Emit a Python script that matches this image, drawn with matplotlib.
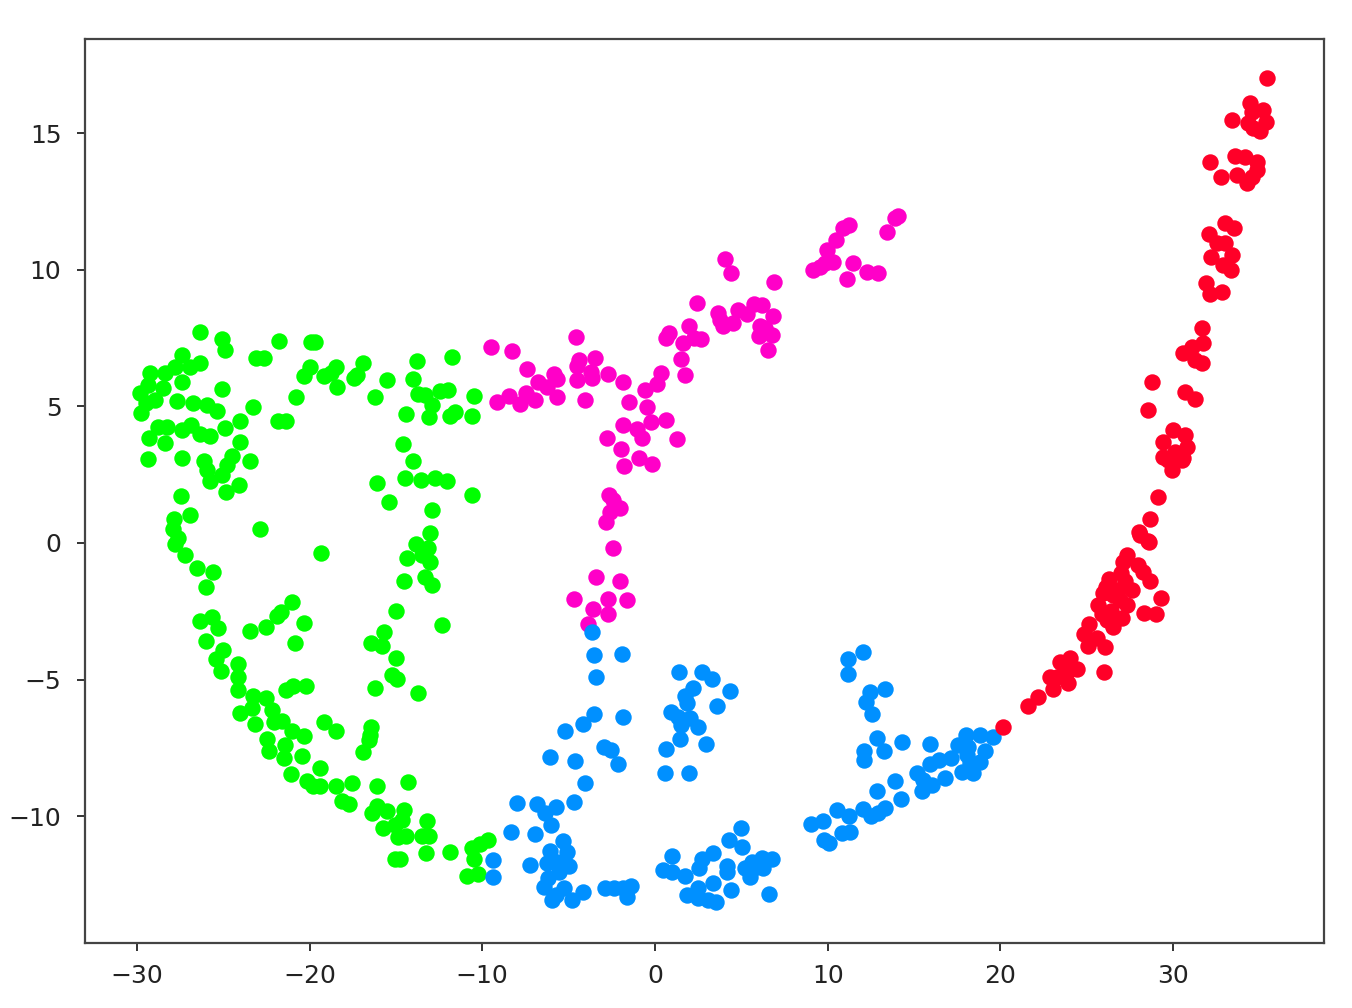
import numpy as np
import matplotlib
matplotlib.use('Agg')
import matplotlib.pyplot as plt

green = [(-26.35,7.70),(-25.09,7.45),(-24.9,7.06),(-27.41,6.88),(-26.35,6.6),(-26.93,6.45),(-27.8,6.45),
    (-28.37,6.2),(-29.24,6.23),(-27.41,5.9),(-28.47,5.66),(-29.34,5.78),(-29.82,5.48),(-28.95,5.23),
    (-29.73,4.77),(-29.44,5.11),(-25.09,5.64),(-27.7,5.21),(-26.77,5.13),(-25.92,5.05),(-25.38,4.84),
    (-23.26,4.99),(-24.03,4.46),(-24.9,4.21),(-25.77,3.92),(-26.35,3.99),(-26.87,4.32),(-27.37,4.13),
    (-28.28,4.23),(-28.76,4.23),(-29.3,3.83),(-28.37,3.65),(-24.03,3.71),(-29.34,3.07),(-27.37,3.1),
    (-26.1,3.01),(-25.92,2.67),(-25.77,2.28),(-25.09,2.49),(-24.8,2.85),(-24.47,3.18),(-23.45,3.01),
    (-24.09,2.12),(-24.86,1.88),(-27.45,1.7),(-26.93,1.01),(-27.83,0.87),(-27.93,0.5),(-27.6,0.17),
    (-27.8,-0.05),(-27.22,-0.46),(-26.54,-0.93),(-25.61,-1.07),(-26.02,-1.63),(-22.87,0.51),(-19.34,-0.37),
    (-23.07,6.76),(-22.64,6.78),(-21.79,7.39),(-19.94,7.34),(-19.69,7.34),(-19.98,6.45),(-20.32,6.09),
    (-20.79,5.35),(-21.81,4.46),(-21.39,4.46),(-19.17,6.11),(-18.47,6.45),(-18.78,6.21),(-18.39,5.72),
    (-17.41,6.02),(-17.23,6.15),(-16.93,6.57),(-15.5,5.96),(-16.21,5.35),(-13.8,6.66),(-11.77,6.81),
    (-13.99,5.99),(-13.7,5.45),(-13.32,5.42),(-12.93,5.05),(-13.06,4.62),(-14.42,4.72),(-12.45,5.56),
    (-11.96,5.59),(-10.48,5.39),(-11.58,4.8),(-11.87,4.65),(-10.59,4.65),(-14.61,3.61),(-14.03,2.98),
    (-14.47,2.39),(-13.57,2.3),(-12.74,2.37),(-12.02,2.28),(-16.08,2.21),(-15.4,1.5),(-10.57,1.74),
    (-12.93,1.19),(-13.03,0.35),(-13.84,-0.05),(-13.12,-0.2),(-14.34,-0.54),(-13.51,-0.44),(-13.03,-0.68),
    (-14.53,-1.41),(-13.32,-1.23),(-12.89,-1.55),
    (-26.34,-2.85),(-25.67,-2.7),(-25.28,-3.12),(-26.0,-3.59),(-25.03,-3.92),(-25.42,-4.26),(-25.15,-4.68),
    (-24.16,-4.43),(-24.12,-4.92),(-24.16,-5.38),(-23.45,-3.22),(-22.54,-3.06),(-21.9,-2.67),(-21.67,-2.51),
    (-21,-2.16),(-20.3,-2.94),(-20.86,-3.65),(-14.99,-2.49),(-12.33,-2.99),(-15.67,-3.27),(-16.46,-3.67),
    (-15.82,-3.79),(-15.01,-4.2),(-15.24,-4.83),(-14.95,-4.99),(-16.21,-5.32),(-13.7,-5.49),(-21.36,-5.38),
    (-20.98,-5.22),(-20.22,-5.22),(-23.3,-5.6),(-22.52,-5.68),(-24.03,-6.21),(-23.35,-6.05),(-22.19,-6.11),
    (-23.16,-6.63),(-22.06,-6.54),(-21.61,-6.51),(-21.04,-6.9),(-20.32,-7.05),(-22.48,-7.17),(-22.35,-7.61),
    (-21.42,-7.41),(-21.46,-7.88),(-20.42,-7.78),(-21.09,-8.45),(-19.4,-8.24),(-19.16,-6.55),(-18.47,-6.87),
    (-16.42,-6.72),(-16.5,-7.03),(-16.54,-7.21),(-16.88,-7.65),(-20.17,-8.71),(-19.78,-8.88),(-19.4,-8.88),
    (-18.47,-8.89),(-17.54,-8.77),(-18.14,-9.46),(-17.72,-9.56),(-16.09,-8.89),(-14.32,-8.76),(-16.11,-9.62),
    (-15.53,-9.81),(-16.4,-9.87),(-14.51,-9.77),(-14.66,-10.13),(-13.2,-10.17),(-15.73,-10.42),(-15.05,-10.32),
    (-14.86,-10.77),(-14.41,-10.72),(-13.51,-10.74),(-13.06,-10.74),(-13.28,-11.33),(-15.05,-11.56),(-14.75,-11.56),
    (-11.87,-11.31),(-10.61,-11.17),(-10.13,-11),(-9.68,-10.87),(-10.48,-11.57),(-10.9,-12.17),(-10.22,-12.11)]

magenta = [(-9.47,7.18),(-8.26,7.04),(-7.43,6.35),(-4.59,7.54),(-4.4,6.7),(-4.49,6.49),(-3.47,6.75),(-3.72,6.27),
    (-3.62,6.03),(-4.53,5.96),(-2.7,6.18),(-1.83,5.89),(-5.84,6.18),(-5.69,6),(-6.75,5.9),(-6.27,5.7),
    (-5.69,5.35),(-4.05,5.23),(-6.95,5.23),(-7.47,5.5),(-7.81,5.09),(-8.45,5.39),(-9.17,5.15),(0.35,6.23),
    (0.1,5.82),(-0.57,5.6),(-1.48,5.17),(-0.44,4.99),(0.62,4.5),(-0.25,4.44),(-1.87,4.32),(-1.02,4.17),
    (-0.73,3.83),(1.3,3.82),(-2.76,3.83),(-1.98,3.43),(-0.9,3.12),(-0.19,2.88),(-1.79,2.82),(-2.64,1.76),
    (-2.41,1.58),(1.74,6.15),(1.49,6.73),(1.61,7.31),(0.62,7.49),(0.83,7.67),(1.97,7.94),(2.26,7.49),
    (2.65,7.45),(2.46,8.79),(4.06,10.38),(4.41,9.87),(3.67,8.4),(3.77,8.16),(3.92,7.92),(4.5,8.06),
    (4.79,8.53),(5.35,8.38),(5.74,8.75),(6.18,8.71),(6.86,8.32),(6.09,7.92),(6.38,7.85),(6,7.57),
    (6.76,7.61),(6.53,7.06),(6.9,9.54),(9.17,9.99),(9.56,10.11),(9.85,10.23),(10.29,10.29),(9.95,10.72),
    (10.47,11.09),(10.91,11.51),(11.24,11.64),(11.49,10.26),(11.14,9.65),(12.3,9.93),(12.9,9.87),(13.46,11.37),
    (13.9,11.88),(14.1,11.98),(-4.7,-2.05),(-3.4,-1.25),(-2.0,-1.4),(-3.6,-2.4),(-2.7,-2.05),(-1.6,-2.1),
    (-2.7,-2.6),(-2.43,-0.18),(-2.84,0.77),(-2.6,1.13),(-2.03,1.28),(-3.9,-2.95)]

blue = [(-3.63,-3.27),(-3.55,-4.09),(-1.93,-4.08),(-3.41,-4.89),(-3.53,-6.26),(-4.15,-6.64),(-5.21,-6.88),
    (-1.85,-6.37),(-2.93,-7.45),(-2.56,-7.58),(-2.12,-8.09),(-6.1,-7.82),(-4.61,-7.99),(-4.05,-8.8),
    (-8.0,-9.53),(-6.85,-9.55),(-5.73,-9.65),(-4.69,-9.49),(-6.37,-9.89),(-6.02,-10.32),(-8.34,-10.56),
    (-6.95,-10.66),(-9.4,-11.6),(-9.36,-12.21),(-7.24,-11.78),(-5.3,-10.89),(-6.08,-11.27),(-5.11,-11.3),
    (-6.23,-11.72),(-5.65,-11.66),(-4.96,-11.82),(-5.54,-12.03),(-6.17,-12.27),(-6.42,-12.58),(-5.25,-12.64),
    (-5.98,-13.06),(-5.73,-12.88),(-4.82,-13.06),(-4.18,-12.78),(-2.89,-12.64),(-2.37,-12.64),(-1.87,-12.64),
    (-1.64,-12.94),(-1.39,-12.54),(1.41,-4.73),(2.71,-4.71),(3.32,-4.99),(4.35,-5.41),(2.22,-5.32),(1.74,-5.6),
    (1.84,-5.84),(3.58,-5.97),(0.93,-6.17),(1.36,-6.36),(2.03,-6.42),(1.49,-6.66),(2.48,-6.75),(1.45,-7.19),
    (2.96,-7.36),(0.64,-7.54),(0.56,-8.43),(1.95,-8.43),(4.97,-10.42),(4.31,-10.87),(5.02,-11.14),(3.34,-11.33),
    (0.97,-11.45),(2.71,-11.58),(2.57,-11.9),(4.19,-11.82),(4.19,-12.05),(0.49,-11.97),(0.97,-12.03),(1.74,-12.17),
    (6.76,-11.58),(6.18,-11.54),(5.6,-11.66),(5.22,-11.9),(5.74,-11.9),(6.28,-11.9),(5.51,-12.21),(3.34,-12.43),
    (2.51,-12.64),(1.84,-12.88),(2.51,-13),(3.09,-13.06),(3.54,-13.13),(4.39,-12.7),(6.59,-12.86),
    (12.07,-3.98),(11.2,-4.24),(11.2,-4.79),(13.32,-5.34),(12.45,-5.46),(12.22,-5.83),(12.59,-6.26),(12.84,-7.15),
    (14.29,-7.28),(13.28,-7.6),(12.11,-7.63),(12.11,-7.96),(15.93,-7.37),(12.88,-9.07),(13.92,-8.71),(14.25,-9.38),
    (13.32,-9.71),(12.94,-9.89),(12.07,-9.74),(12.49,-10.01),(10.52,-9.77),(9.02,-10.3),(9.75,-10.17),(11.26,-10.01),
    (11.29,-10.56),(10.81,-10.62),(9.81,-10.87),(10.1,-10.99),(15.16,-8.43),(15.54,-8.67),(15.45,-9.07),(16.02,-8.85),
    (16.8,-8.61),(15.93,-8.1),(16.47,-7.94),(17.14,-7.88),(18.01,-7.02),(18.82,-7.02),(19.6,-7.09),(17.57,-7.39),
    (18.15,-7.45),(19.11,-7.63),(18.05,-7.76),(18.82,-8.0),(18.25,-8.06),(17.76,-8.37),(18.4,-8.43)]

red = [(20.18,-6.72),(21.62,-5.95),(22.16,-5.62),(23.07,-5.34),(22.88,-4.89),(23.9,-5.13),(23.46,-4.34),(24.04,-4.22),
    (24.42,-4.62),(23.84,-4.71),(26,-4.71),(26.06,-3.82),(25.1,-3.79),(25.58,-3.49),(24.85,-3.34),(25.16,-2.96),
    (26.55,-3.08),(27.03,-2.75),(25.68,-2.27),(25.97,-1.84),(26.31,-1.33),(26.84,-1.72),(27.22,-1.41),(27.61,-1.72),
    (27.32,-2.27),(26.93,-2.08),(26.16,-2.82),(27.36,-0.44),(27.12,-0.71),(27.99,-0.8),(28.25,-1.05),(28.67,-1.41),
    (29.29,-2.02),(28.34,-2.57),(29.02,-2.6),(28,0.41),(28.63,0.02),(35.42,17),(33.4,15.47),(34.46,16.11),
    (35.23,15.84),(34.56,15.78),(34.36,15.35),(35.37,15.41),(35.04,15.07),(34.65,15.17),(32.14,13.95),(33.59,14.16),
    (34.17,14.13),(34.85,13.95),(34.85,13.65),(33.69,13.46),(32.78,13.38),(34.27,13.16),(34.56,13.4),(33.01,11.69),
    (33.53,11.51),(32.08,11.3),(32.53,10.96),(33.01,10.96),(33.4,10.54),(32.18,10.47),(32.91,10.17),(33.36,9.99),
    (31.89,9.52),(32.82,9.17),(32.14,9.1),(31.7,7.88),(31.76,7.3),(31.08,7.18),(30.6,6.94),(31.27,6.69),
    (31.66,6.57),(28.8,5.9),(30.69,5.54),(31.27,5.27),(28.57,4.87),(30.02,4.13),(30.69,3.95),(29.44,3.71),
    (30.79,3.52),(30.12,3.34),(29.44,3.16),(30.6,3.1),(29.13,1.68),(28.66,0.88),(28.08,0.29),(28.55,0.07),
    (29.7,3.04),(29.94,2.67),(30.5,3.04),(26.4,-2.5),(25.9,-2.6),(26.5,-1.9),(26.1,-1.6),(27.0,-1.1),(23.3,-4.9)]

xticks = [-30, -20, -10, 0, 10, 20, 30]
yticks = [-10, -5, 0, 5, 10, 15]

fig = plt.figure(figsize=(13.52, 10.08), dpi=100)
ax = fig.add_axes([85/1352, 1 - 943/1008, (1324 - 85)/1352, (943 - 39)/1008])

# same order as the clusters overlap in the picture
for pts, col in [(green, '#00ff00'), (magenta, '#ff00c8'), (blue, '#0090ff'), (red, '#ff0028')]:
    x, y = np.array(pts).T
    ax.scatter(x, y, s=140, c=col, linewidths=0)

ax.set_xlim(-33.0, 38.74)
ax.set_ylim(-14.64, 18.44)
ax.set_xticks(xticks)
ax.set_yticks(yticks)
ax.tick_params(labelsize=18, length=6, width=1.4, color='#333333', labelcolor='#222222')
ax.tick_params(axis='x', pad=9)
ax.tick_params(axis='y', pad=11)
for sp in ax.spines.values():
    sp.set_linewidth(1.6)
    sp.set_color('#444444')

fig.savefig('out.png', dpi=100)
